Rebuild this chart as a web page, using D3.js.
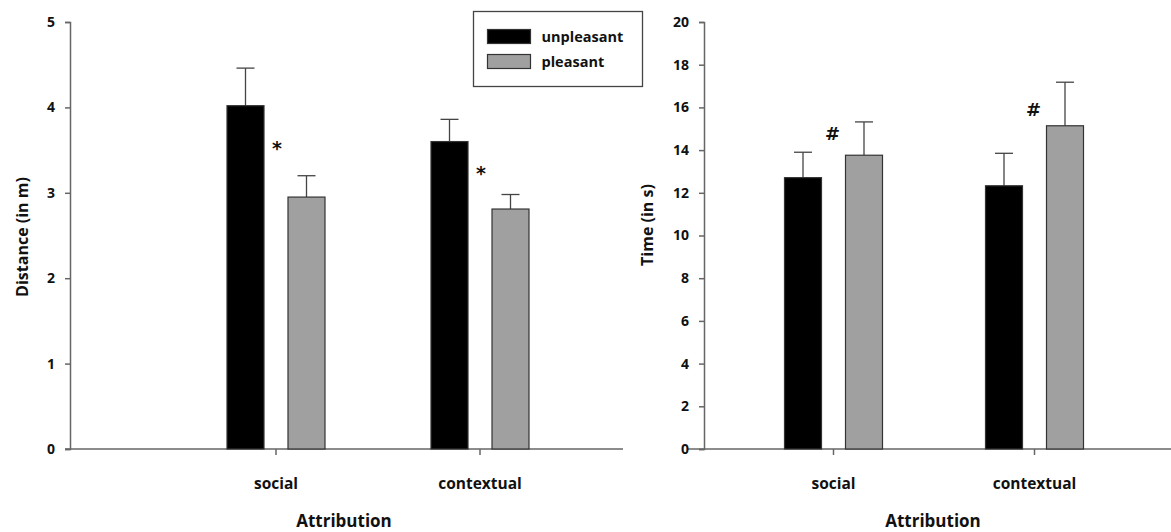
<!DOCTYPE html>
<html>
<head>
<meta charset="utf-8">
<script src="https://cdn.jsdelivr.net/npm/d3@7"></script>
<style>
  body { margin: 0; background: #fff; }
  text { font-family: "Open Sans", sans-serif; font-weight: 700; fill: #111; }
</style>
</head>
<body>
<div id="chartContainer"></div>
<script>
// Data
const categories = ["social", "contextual"];
const conditions = ["unpleasant", "pleasant"];
const colors = ["#000000", "#a0a0a0"];

// Left panel: distance (m)
const distanceMeans = [[4.02, 2.95], [3.60, 2.81]];
const distanceErrors = [[0.44, 0.25], [0.26, 0.17]];
const distanceTicks = [0, 1, 2, 3, 4, 5];
const distanceMarks = [{ cat: "social", y: 3.58, s: "*" }, { cat: "contextual", y: 3.28, s: "*" }];

// Right panel: time (s)
const timeMeans = [[12.71, 13.76], [12.33, 15.14]];
const timeErrors = [[1.19, 1.56], [1.52, 2.04]];
const timeTicks = [0, 2, 4, 6, 8, 10, 12, 14, 16, 18, 20];
const timeMarks = [{ cat: "social", y: 14.78, s: "#" }, { cat: "contextual", y: 15.91, s: "#" }];

const width = 1171;
const height = 532;

const svg = d3.select("#chartContainer").append("svg")
    .attr("width", width)
    .attr("height", height);

function drawPanel(opt) {
    const g = svg.append("g");

    const y = d3.scaleLinear().domain(opt.domain).range([449, 22]);
    // category centers
    const x = d3.scalePoint().domain(categories).range(opt.catRange);

    // x axis line
    g.append("line")
        .attr("x1", opt.xStart).attr("x2", opt.xEnd)
        .attr("y1", y(0)).attr("y2", y(0))
        .attr("stroke", "#666").attr("stroke-width", 1.5);

    // category ticks
    g.selectAll(".cat-tick")
        .data(categories)
        .join("line")
        .attr("x1", d => x(d)).attr("x2", d => x(d))
        .attr("y1", y(0)).attr("y2", y(0) + 6)
        .attr("stroke", "#666").attr("stroke-width", 1.5);

    g.selectAll(".cat-label")
        .data(categories)
        .join("text")
        .attr("x", d => x(d))
        .attr("y", 489)
        .attr("text-anchor", "middle")
        .style("font-size", "15.5px")
        .text(d => d);

    // y axis
    const yAxis = g.append("g")
        .attr("transform", `translate(${opt.axisX},0)`)
        .call(d3.axisLeft(y).tickValues(opt.ticks).tickSize(5).tickPadding(10).tickFormat(d3.format("d")));
    yAxis.select(".domain").attr("stroke", "#666").attr("stroke-width", 1.5);
    yAxis.selectAll(".tick line").attr("stroke", "#666").attr("stroke-width", 1.5);
    yAxis.selectAll(".tick text")
        .style("font-size", "14px")
        .style("font-family", "'Open Sans', sans-serif")
        .style("font-weight", 700)
        .attr("fill", "#111");

    // bars
    const barW = 37;
    const offset = 30.5;
    const rows = [];
    categories.forEach((c, i) => {
        conditions.forEach((k, j) => {
            rows.push({ cat: c, cond: j, v: opt.means[i][j], e: opt.errors[i][j] });
        });
    });
    const cx = d => x(d.cat) + (d.cond === 0 ? -offset : offset);

    // error bars (drawn first, bar covers lower part)
    g.selectAll(".err")
        .data(rows)
        .join("line")
        .attr("x1", cx).attr("x2", cx)
        .attr("y1", d => y(d.v)).attr("y2", d => y(d.v + d.e))
        .attr("stroke", "#444").attr("stroke-width", 1.3);
    g.selectAll(".cap")
        .data(rows)
        .join("line")
        .attr("x1", d => cx(d) - 9).attr("x2", d => cx(d) + 9)
        .attr("y1", d => y(d.v + d.e)).attr("y2", d => y(d.v + d.e))
        .attr("stroke", "#444").attr("stroke-width", 1.3);

    g.selectAll(".bar")
        .data(rows)
        .join("rect")
        .attr("x", d => cx(d) - barW / 2)
        .attr("width", barW)
        .attr("y", d => y(d.v))
        .attr("height", d => y(0) - y(d.v))
        .attr("fill", d => colors[d.cond])
        .attr("stroke", "#333")
        .attr("stroke-width", 1.2);

    // significance marks
    g.selectAll(".mark")
        .data(opt.marks)
        .join("text")
        .attr("x", d => x(d.cat) + (opt.markDx || 0))
        .attr("y", d => y(d.y))
        .attr("dy", opt.markDy)
        .attr("text-anchor", "middle")
        .style("font-size", opt.markSize)
        .style("font-family", "'DejaVu Sans', sans-serif")
        .style("font-weight", 700)
        .text(d => d.s);

    // axis titles
    g.append("text")
        .attr("transform", `translate(${opt.yTitleX},${opt.yTitleY}) rotate(-90)`)
        .attr("text-anchor", "middle")
        .attr("dy", "0.35em")
        .style("font-size", "16px")
        .text(opt.yTitle);
    g.append("text")
        .attr("x", opt.xTitleX)
        .attr("y", 527)
        .attr("text-anchor", "middle")
        .style("font-size", "17px")
        .text("Attribution");
}

drawPanel({
    domain: [0, 5], ticks: distanceTicks, means: distanceMeans, errors: distanceErrors, marks: distanceMarks,
    catRange: [276, 480], axisX: 70, xStart: 65, xEnd: 623,
    yTitle: "Distance (in m)", yTitleX: 22, yTitleY: 237, xTitleX: 344,
    markSize: "19px", markDx: 1, markDy: "0.6em"
});

drawPanel({
    domain: [0, 20], ticks: timeTicks, means: timeMeans, errors: timeErrors, marks: timeMarks,
    catRange: [833.5, 1034.5], axisX: 704, xStart: 687, xEnd: 1171,
    yTitle: "Time (in s)", yTitleX: 647, yTitleY: 225, xTitleX: 933,
    markSize: "18px", markDx: -1, markDy: "0.35em"
});

// legend
const legend = svg.append("g").attr("transform", "translate(473.5,11.5)");
legend.append("rect")
    .attr("width", 169).attr("height", 75)
    .attr("fill", "#fff").attr("stroke", "#444").attr("stroke-width", 1.3);
const items = legend.selectAll(".item")
    .data(conditions)
    .join("g")
    .attr("transform", (d, i) => `translate(14,${18 + i * 25})`);
items.append("rect")
    .attr("width", 43).attr("height", 14)
    .attr("fill", (d, i) => colors[i])
    .attr("stroke", "#333").attr("stroke-width", 1.2);
items.append("text")
    .attr("x", 54).attr("y", 7).attr("dy", "0.35em")
    .style("font-size", "14.5px")
    .text(d => d);
</script>
</body>
</html>
